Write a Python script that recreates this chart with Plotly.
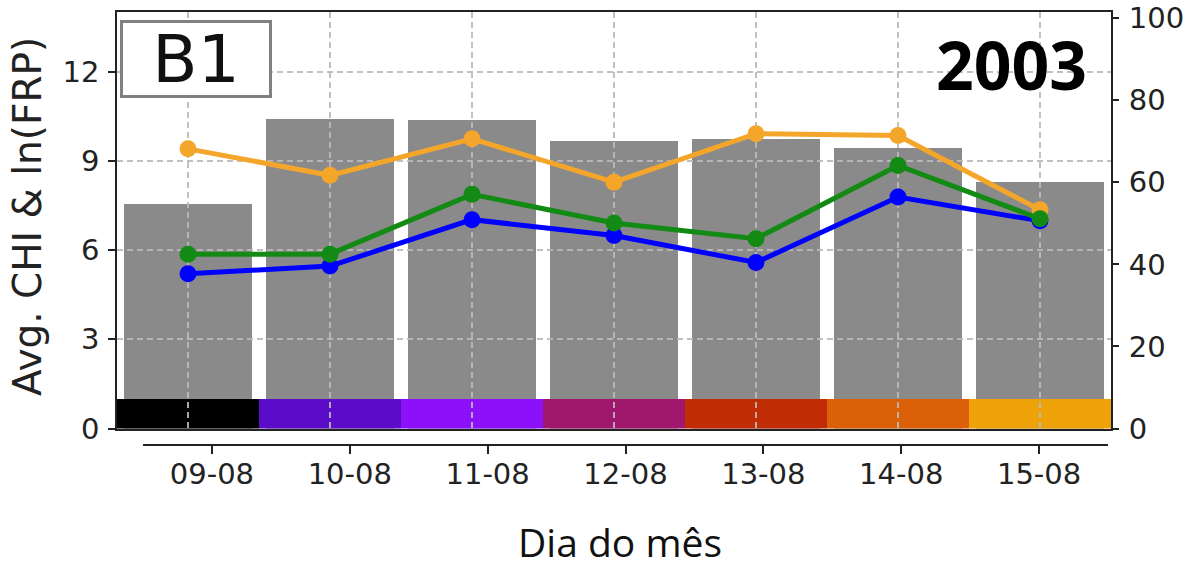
import plotly.graph_objects as go

# Days of the month shown on the bottom axis
days = ["09-08", "10-08", "11-08", "12-08", "13-08", "14-08", "15-08"]

# Gray bars (left axis)
bar_values = [7.54, 10.42, 10.38, 9.66, 9.74, 9.44, 8.30]

# Line series (left axis)
orange_values = [9.40, 8.51, 9.74, 8.28, 9.91, 9.85, 7.35]
blue_values = [5.20, 5.46, 7.02, 6.49, 5.58, 7.78, 6.98]
green_values = [5.86, 5.86, 7.87, 6.91, 6.38, 8.84, 7.05]

# Colour band along the bottom, one colour per day
band_height = [1.0] * 7
band_colors = ["#000000", "#5a0cc8", "#8c10fa", "#a0186e", "#c02c04", "#dc6008", "#eca208"]

# Axis ticks
right_ticks = [0, 20, 40, 60, 80, 100]
left_ticks = [0, 3, 6, 9, 12]

W, H = 1191, 570
L, R, T, B = 117, 80, 12, 125
PW = W - L - R
PH = H - T - B
frame_bottom = 428.5  # pixel row of the value 0


def px_x(p):
    return (p - L) / PW


def px_y(p):
    return (H - B - p) / PH


y_dom = [px_y(frame_bottom), 1.0]
x_idx = list(range(len(days)))
left_range = [0, 14.0]
right_range = [0, 101.5]
axis_col = "#222222"
tick_font = dict(family="DejaVu Sans", size=29, color=axis_col)
grid_col = "rgba(185,185,185,0.9)"

fig = go.Figure()

# Bars and colour band in the lower layer
fig.add_trace(go.Bar(x=x_idx, y=bar_values, width=0.9, marker=dict(color="#8a8a8a", line_width=0),
                     xaxis="x", yaxis="y", showlegend=False, hoverinfo="skip"))
fig.add_trace(go.Bar(x=x_idx, y=band_height, width=1.0, marker=dict(color=band_colors, line_width=0),
                     xaxis="x", yaxis="y", showlegend=False, hoverinfo="skip"))

# Lines in the upper layer (its grid sits above the bars)
for vals, col in [(orange_values, "#f4a62a"), (blue_values, "#0000ff"), (green_values, "#138a13")]:
    fig.add_trace(go.Scatter(x=x_idx, y=vals, mode="lines+markers",
                             line=dict(color=col, width=5),
                             marker=dict(color=col, size=17),
                             xaxis="x2", yaxis="y2", showlegend=False))

# Placeholders so the right axis and offset bottom axis are drawn
fig.add_trace(go.Scatter(x=[None], y=[None], xaxis="x2", yaxis="y3", showlegend=False, hoverinfo="skip"))
fig.add_trace(go.Scatter(x=[None], y=[None], xaxis="x3", yaxis="y", showlegend=False, hoverinfo="skip"))

fig.update_layout(
    width=W, height=H,
    margin=dict(l=L, r=R, t=T, b=B, pad=0, autoexpand=False),
    paper_bgcolor="white",
    plot_bgcolor="rgba(0,0,0,0)",
    barmode="overlay",
    bargap=0,
    showlegend=False,
    xaxis=dict(domain=[0, 1], range=[-0.5, 6.5], anchor="y", showticklabels=False, ticks="",
               showgrid=False, zeroline=False, showline=True, mirror=True,
               linecolor=axis_col, linewidth=1.5),
    yaxis=dict(domain=y_dom, range=left_range, anchor="x", tickvals=left_ticks,
               ticks="outside", ticklen=7, tickwidth=1.5, tickcolor=axis_col,
               tickfont=tick_font, ticklabelstandoff=3, ticklabeloverflow="allow",
               showgrid=False, zeroline=False, showline=True, mirror=True,
               linecolor=axis_col, linewidth=1.5),
    xaxis2=dict(domain=[0, 1], range=[-0.5, 6.5], anchor="y2", tickvals=x_idx,
                showticklabels=False, ticks="", showgrid=True, gridcolor=grid_col,
                gridwidth=1.5, griddash="6px,4px", zeroline=False, showline=False),
    yaxis2=dict(domain=y_dom, range=left_range, anchor="x2", tickvals=left_ticks[1:],
                showticklabels=False, ticks="", showgrid=True, gridcolor=grid_col,
                gridwidth=1.5, griddash="6px,4px", zeroline=False, showline=False),
    yaxis3=dict(overlaying="y2", anchor="x2", side="right", range=right_range,
                tickvals=right_ticks, ticks="outside", ticklen=7, tickwidth=1.5,
                tickcolor=axis_col, tickfont=tick_font, ticklabelstandoff=4,
                ticklabeloverflow="allow",
                showgrid=False, zeroline=False, showline=False),
    xaxis3=dict(domain=[px_x(143), px_x(1108)], range=[-0.5, 6.5], anchor="free", position=0,
                tickvals=x_idx, ticktext=days, ticks="outside", ticklen=8, tickwidth=1.5,
                tickcolor=axis_col, tickfont=dict(family="DejaVu Sans", size=29, color=axis_col),
                ticklabelstandoff=-5, ticklabeloverflow="allow",
                showgrid=False, zeroline=False, showline=True, linecolor=axis_col, linewidth=1.5),
)

fig.add_annotation(text="Avg. CHI & ln(FRP)", xref="paper", yref="paper",
                   x=px_x(27), y=px_y(217), textangle=-90, showarrow=False,
                   xanchor="center", yanchor="middle",
                   font=dict(family="DejaVu Sans", size=39, color=axis_col))
fig.add_annotation(text="Dia do mês", xref="paper", yref="paper",
                   x=px_x(620), y=px_y(541), showarrow=False,
                   xanchor="center", yanchor="middle",
                   font=dict(family="Open Sans", size=39, color="#111111"))
fig.add_annotation(text="<b>2003</b>", xref="paper", yref="paper",
                   x=px_x(1011), y=px_y(64), showarrow=False,
                   xanchor="center", yanchor="middle",
                   font=dict(family="Open Sans", size=66, color="#000000"))
fig.add_annotation(text="B1", xref="paper", yref="paper",
                   x=px_x(196), y=px_y(59), showarrow=False,
                   xanchor="center", yanchor="middle", width=146, height=72,
                   bgcolor="white", bordercolor="#808080", borderwidth=3, borderpad=0,
                   font=dict(family="DejaVu Sans", size=66, color="#111111"))

fig.write_html("out.html")
